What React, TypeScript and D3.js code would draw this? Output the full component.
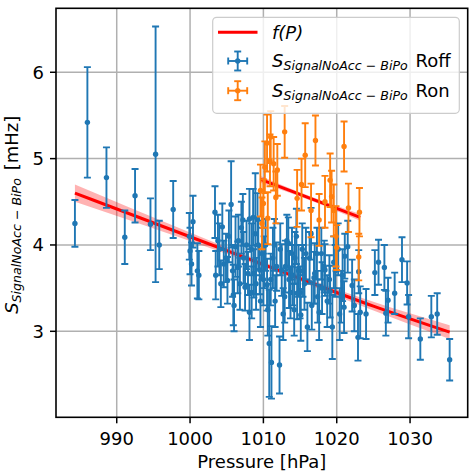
import React from "react";
import * as d3 from "d3";

// ---- data ----
// Roff series: pressure [hPa], rate [mHz], error [mHz]
const roffP = [
  984.3, 986.0, 988.6, 991.1, 992.5, 994.6, 995.3, 995.8, 997.7, 999.9,
  1000.0, 1000.4, 1000.2, 1001.2, 1001.0, 1003.4, 1003.5, 1004.0, 1004.4, 1004.6,
  1005.1, 1005.6, 1005.9, 1006.2, 1006.5, 1006.6, 1007.0, 1007.5, 1007.9, 1008.1,
  1008.1, 1008.4, 1008.7, 1008.9, 1009.2, 1009.5, 1009.8, 1010.0, 1010.5, 1010.8,
  1011.1, 1011.3, 1011.6, 1012.2, 1012.5, 1012.9, 1013.2, 1013.5, 1013.9, 1014.2,
  1014.5, 1014.8, 1015.0, 1015.3, 1015.6, 1016.0, 1016.3, 1016.6, 1016.9, 1017.3,
  1017.6, 1018.0, 1018.3, 1018.7, 1019.0, 1019.4, 1019.8, 1020.2, 1020.6, 1021.1,
  1021.0, 1022.1, 1022.9, 1023.0, 1023.2, 1024.0, 1025.2, 1025.7, 1026.5, 1026.7,
  1027.0, 1027.9, 1028.9, 1029.6, 1029.8, 1031.4, 1032.9, 1033.7, 1035.4,
  1003.8, 1004.2, 1004.9, 1005.3, 1005.8, 1006.0, 1006.8, 1007.2, 1007.3, 1007.7,
  1008.4, 1008.6, 1009.0, 1009.3, 1009.6, 1010.1, 1010.3, 1010.6, 1011.0, 1011.5,
  1011.8, 1012.3, 1012.7, 1013.0, 1013.4, 1013.7, 1014.0, 1014.3, 1014.6, 1015.1,
  1015.4, 1015.8, 1016.5, 1017.0, 1017.4, 1017.9, 1018.4, 1019.1, 1019.6, 1020.4,
  1020.8, 1021.5, 1022.4,
];
const roffS = [
  4.25, 5.42, 4.78, 4.09, 4.57, 4.24, 5.05, 4.0, 4.41, 4.1,
  3.93, 4.27, 3.78, 3.65, 3.7, 4.38, 3.65, 3.95, 4.21, 3.78,
  3.59, 4.47, 3.42, 3.98, 3.74, 4.05, 4.2, 3.51, 3.67, 3.22,
  4.3, 3.95, 3.67, 4.13, 4.3, 3.71, 3.9, 3.6, 3.54, 2.86,
  2.64, 3.85, 3.35, 2.61, 3.71, 3.4, 4.05, 3.6, 3.9, 3.25,
  4.1, 3.7, 3.45, 3.95, 3.55, 3.05, 3.85, 3.3, 3.62, 3.9,
  3.22, 3.5, 3.75, 3.35, 3.6, 3.05, 3.7, 3.95, 3.4, 3.87,
  3.28, 3.53, 2.93, 3.69, 3.22, 3.2, 3.68, 3.8, 3.74, 3.21,
  3.36, 3.44, 3.83, 3.56, 3.17, 2.91, 3.17, 3.2, 2.67,
  4.05, 3.55, 3.85, 4.1, 3.7, 3.3, 3.55, 4.29, 3.85, 4.0,
  3.45, 4.32, 3.55, 4.0, 3.35, 3.8, 4.0, 3.25, 3.6, 4.0,
  3.75, 3.95, 3.2, 3.75, 4.02, 3.45, 3.65, 3.85, 3.44, 3.19,
  3.7, 3.9, 4.13, 3.67, 3.4, 3.9, 3.71, 3.46, 3.8, 3.2,
  3.65, 3.98, 3.3,
];
const roffErr = [
  0.27, 0.64, 0.35, 0.31, 0.31, 0.3, 1.48, 0.28, 0.33, 0.27,
  0.27, 0.3, 0.25, 0.28, 0.32, 0.3, 0.28, 0.3, 0.27, 0.27,
  0.27, 0.5, 0.35, 0.35, 0.3, 0.3, 0.3, 0.27, 0.25, 0.32,
  0.35, 0.3, 0.28, 0.7, 0.3, 0.28, 0.3, 0.3, 0.3, 0.62,
  0.42, 0.35, 0.3, 0.33, 0.3, 0.3, 0.3, 0.33, 0.3, 0.3,
  0.32, 0.3, 0.3, 0.3, 0.3, 0.28, 0.3, 0.28, 0.3, 0.3,
  0.32, 0.3, 0.3, 0.3, 0.28, 0.37, 0.3, 0.3, 0.3, 0.26,
  0.3, 0.3, 0.27, 0.25, 0.3, 0.29, 0.26, 0.26, 0.26, 0.26,
  0.26, 0.24, 0.26, 0.25, 0.25, 0.24, 0.24, 0.24, 0.24,
  0.3, 0.27, 0.28, 0.3, 0.3, 0.3, 0.3, 0.3, 0.3, 0.28,
  0.3, 0.33, 0.3, 0.28, 0.3, 0.3, 0.3, 0.3, 0.3, 0.3,
  0.28, 0.3, 0.3, 0.3, 0.3, 0.3, 0.35, 0.3, 0.3, 0.3,
  0.3, 0.3, 0.3, 0.35, 0.3, 0.3, 0.3, 0.3, 0.3, 0.3,
  0.3, 0.3, 0.3,
];

// Ron series
const ronP = [
  1009.6, 1009.8, 1010.0, 1010.2, 1010.5, 1010.6, 1010.9, 1011.0, 1011.4, 1011.7,
  1011.9, 1012.9, 1014.6, 1015.2, 1015.7, 1016.5, 1017.1, 1017.6, 1018.4, 1019.1,
  1019.3, 1019.6, 1019.9, 1020.0, 1021.0, 1021.6, 1023.1, 1023.0,
];
const ronS = [
  4.63, 4.25, 4.48, 4.9, 5.18, 4.31, 4.98, 5.25, 4.94, 4.55,
  4.87, 5.31, 4.54, 4.7, 5.04, 4.4, 5.21, 4.29, 4.5, 4.75,
  4.56, 4.4, 4.1, 3.97, 5.14, 4.43, 4.38, 3.86,
];
const ronErr = [
  0.3, 0.3, 0.28, 0.3, 0.33, 0.3, 0.3, 0.3, 0.31, 0.3,
  0.3, 0.3, 0.33, 0.3, 0.37, 0.31, 0.29, 0.3, 0.3, 0.31,
  0.3, 0.3, 0.35, 0.26, 0.29, 0.28, 0.28, 0.27,
];

// fit f(P) for Roff: pressure nodes, fitted value, confidence half-width
const fitOffP = [984.3, 1000, 1012, 1025, 1035.4];
const fitOffV = [4.6, 4.0953, 3.7092, 3.2909, 2.99];
const fitOffBand = [0.1, 0.05, 0.03, 0.05, 0.08];
// fit f(P) for Ron
const fitOnP = [1009.6, 1016.4, 1023.2];
const fitOnV = [4.76, 4.54, 4.32];
const fitOnBand = [0.04, 0.025, 0.04];

const xTicks = [990, 1000, 1010, 1020, 1030];
const yTicks = [3, 4, 5, 6];
const xDomain = [981.72, 1037.86];
const yDomain = [2.004, 6.741];

const BLUE = "#1f77b4";
const ORANGE = "#ff7f0e";
const RED = "#ff0000";
const FONT = "DejaVu Sans, sans-serif";
const FS = 18;
const SUB = 12.6;

const W = 469;
const H = 471;
const M = { left: 56, right: 467.7, top: 8.3, bottom: 417.3 };

export default function App() {
  const x = d3.scaleLinear().domain(xDomain).range([M.left, M.right]);
  const y = d3.scaleLinear().domain(yDomain).range([M.bottom, M.top]);

  const line = d3
    .line<[number, number]>()
    .x((d) => x(d[0]))
    .y((d) => y(d[1]))
    .curve(d3.curveMonotoneX);
  const area = d3
    .area<[number, number, number]>()
    .x((d) => x(d[0]))
    .y0((d) => y(d[1] - d[2]))
    .y1((d) => y(d[1] + d[2]))
    .curve(d3.curveMonotoneX);

  const offFit = fitOffP.map((p, i) => [p, fitOffV[i], fitOffBand[i]] as [number, number, number]);
  const onFit = fitOnP.map((p, i) => [p, fitOnV[i], fitOnBand[i]] as [number, number, number]);

  const cap = 3.5;
  const errBars = (P: number[], S: number[], E: number[], color: string, key: string) =>
    P.map((p, i) => {
      const cx = x(p);
      const y1 = y(S[i] + E[i]);
      const y0 = y(S[i] - E[i]);
      return (
        <g key={key + i} stroke={color} strokeWidth={1.9}>
          <line x1={cx} x2={cx} y1={y1} y2={y0} />
          <line x1={cx - cap} x2={cx + cap} y1={y1} y2={y1} />
          <line x1={cx - cap} x2={cx + cap} y1={y0} y2={y0} />
          <circle cx={cx} cy={y(S[i])} r={2.7} fill={color} stroke="none" />
        </g>
      );
    });

  const legendSym = (cx: number, cy: number, color: string) => (
    <g stroke={color} strokeWidth={1.9}>
      <line x1={cx - 9.5} x2={cx + 9.5} y1={cy} y2={cy} />
      <line x1={cx} x2={cx} y1={cy - 9.5} y2={cy + 9.5} />
      <line x1={cx - 9.5} x2={cx - 9.5} y1={cy - 3.5} y2={cy + 3.5} />
      <line x1={cx + 9.5} x2={cx + 9.5} y1={cy - 3.5} y2={cy + 3.5} />
      <line x1={cx - 3.5} x2={cx + 3.5} y1={cy - 9.5} y2={cy - 9.5} />
      <line x1={cx - 3.5} x2={cx + 3.5} y1={cy + 9.5} y2={cy + 9.5} />
      <circle cx={cx} cy={cy} r={2.7} fill={color} stroke="none" />
    </g>
  );

  const sLabel = (tail: string) => (
    <>
      <tspan fontStyle="italic">S</tspan>
      <tspan fontStyle="italic" fontSize={SUB} dy={3}>
        SignalNoAcc
      </tspan>
      <tspan fontSize={SUB} dx={4}>
        {"\u2212"}
      </tspan>
      <tspan fontStyle="italic" fontSize={SUB} dx={4}>
        BiPo
      </tspan>
      <tspan dy={-3} dx={2}>
        {tail}
      </tspan>
    </>
  );

  return (
    <svg
      width={W}
      height={H}
      style={{ position: "absolute", left: 0, top: 0, background: "#fff" }}
      fontFamily={FONT}
    >
      <defs>
        <clipPath id="plotclip">
          <rect x={M.left} y={M.top} width={M.right - M.left} height={M.bottom - M.top} />
        </clipPath>
      </defs>
      <rect x={0} y={0} width={W} height={H} fill="#fff" />
      {/* grid */}
      <g stroke="#b0b0b0" strokeWidth={1.5}>
        {xTicks.map((t) => (
          <line key={"gx" + t} x1={x(t)} x2={x(t)} y1={M.top} y2={M.bottom} />
        ))}
        {yTicks.map((t) => (
          <line key={"gy" + t} x1={M.left} x2={M.right} y1={y(t)} y2={y(t)} />
        ))}
      </g>
      <g clipPath="url(#plotclip)">
        {/* fit bands & lines */}
        <path d={area(offFit) || ""} fill={RED} fillOpacity={0.3} stroke="none" />
        <path d={area(onFit) || ""} fill={RED} fillOpacity={0.3} stroke="none" />
        <path d={line(offFit.map((d) => [d[0], d[1]] as [number, number])) || ""} fill="none" stroke={RED} strokeWidth={3} />
        <path d={line(onFit.map((d) => [d[0], d[1]] as [number, number])) || ""} fill="none" stroke={RED} strokeWidth={3} />
        {errBars(roffP, roffS, roffErr, BLUE, "off")}
        {errBars(ronP, ronS, ronErr, ORANGE, "on")}
      </g>
      {/* frame */}
      <rect
        x={M.left}
        y={M.top}
        width={M.right - M.left}
        height={M.bottom - M.top}
        fill="none"
        stroke="#000"
        strokeWidth={1.6}
      />
      {/* ticks */}
      <g stroke="#000" strokeWidth={1.5}>
        {xTicks.map((t) => (
          <line key={"tx" + t} x1={x(t)} x2={x(t)} y1={M.bottom} y2={M.bottom + 6} />
        ))}
        {yTicks.map((t) => (
          <line key={"ty" + t} x1={M.left - 6} x2={M.left} y1={y(t)} y2={y(t)} />
        ))}
      </g>
      <g fontSize={FS} fill="#000">
        {xTicks.map((t) => (
          <text key={"lx" + t} x={x(t)} y={445} textAnchor="middle">
            {t}
          </text>
        ))}
        {yTicks.map((t) => (
          <text key={"ly" + t} x={44} y={y(t)} dy="0.36em" textAnchor="end">
            {t}
          </text>
        ))}
      </g>
      <text x={(M.left + M.right) / 2} y={468} textAnchor="middle" fontSize={FS}>
        Pressure [hPa]
      </text>
      <text
        transform={`translate(17.5,${(M.top + M.bottom) / 2 + 2}) rotate(-90)`}
        textAnchor="middle"
        fontSize={FS}
      >
        {sLabel(" [mHz]")}
      </text>
      {/* legend */}
      <rect x={212.7} y={17.3} width={246.6} height={96} rx={4} fill="#fff" fillOpacity={0.8} stroke="#cccccc" strokeWidth={1.2} />
      <line x1={218} x2={257.5} y1={32.3} y2={32.3} stroke={RED} strokeWidth={3} />
      {legendSym(237.7, 61, BLUE)}
      {legendSym(237.7, 90.7, ORANGE)}
      <g fontSize={FS} fill="#000">
        <text x={272} y={38.8} fontStyle="italic">
          f(P)
        </text>
        <text x={272} y={67.3}>
          {sLabel(" Roff")}
        </text>
        <text x={272} y={97}>
          {sLabel(" Ron")}
        </text>
      </g>
    </svg>
  );
}
